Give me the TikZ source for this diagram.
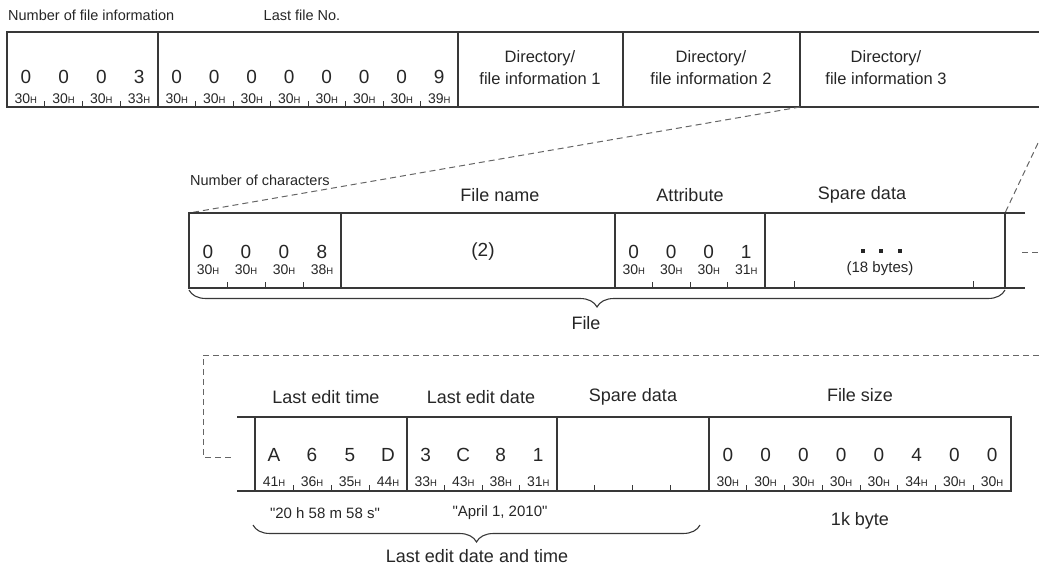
\documentclass[tikz,border=0pt]{standalone}
\usepackage{fontspec}
\setmainfont{Liberation Sans}
\usetikzlibrary{decorations.pathreplacing}

\newcommand{\hx}[1]{#1{\fontsize{9.5}{10}\selectfont H}}

\tikzset{
  frame/.style={draw=black!78, line width=1.3pt},
  tick/.style={draw=black!78, line width=0.9pt},
  link/.style={draw=black!60, line width=1pt, dash pattern=on 6pt off 4pt},
  toplbl/.style={font=\fontsize{14.5}{16}\selectfont},
  boxtxt/.style={font=\fontsize{16.5}{22}\selectfont, align=center},
  head/.style={font=\fontsize{18}{20}\selectfont},
  digit/.style={font=\fontsize{19}{21}\selectfont},
  hexv/.style={font=\fontsize{14}{15}\selectfont},
  note/.style={font=\fontsize{15}{17}\selectfont},
  sqdot/.style={fill=black!85, minimum size=4pt, inner sep=0pt},
  brc/.style={draw=black!78, line width=1.1pt,
              decorate, decoration={brace, mirror, amplitude=17pt}}
}

\begin{document}
\begin{tikzpicture}[x=1pt, y=-1pt, every node/.style={text=black!85, inner sep=0pt}]
  \useasboundingbox (0,0) rectangle (1039,568);

  % Header row
  \node[toplbl, anchor=west] (nfi) at (8,15) {Number of file information};
  \node[toplbl] (lfn) at (302,15) {Last file No.};
  \draw[frame] (1039,32) -- (7,32) -- (7,107) -- (1039,107);
  \draw[frame] (158,32) -- (158,107);
  \draw[frame] (458,32) -- (458,107);
  \draw[frame] (623,32) -- (623,107);
  \draw[frame] (800,32) -- (800,107);
  \foreach \d/\h [count=\i] in {0/30,0/30,0/30,3/33}{
    \node[digit] (a\i) at ({7+37.75*(\i-0.5)},77) {\d};
    \node[hexv] (ah\i) at ({7+37.75*(\i-0.5)},99) {\hx{\h}};
  }
  \foreach \d/\h [count=\i] in {0/30,0/30,0/30,0/30,0/30,0/30,0/30,9/39}{
    \node[digit] (b\i) at ({158+37.5*(\i-0.5)},77) {\d};
    \node[hexv] (bh\i) at ({158+37.5*(\i-0.5)},99) {\hx{\h}};
  }
  \foreach \i in {1,2,3} \draw[tick] ({7+37.75*\i},107) -- ++(0,-6);
  \foreach \i in {1,...,7} \draw[tick] ({158+37.5*\i},107) -- ++(0,-6);
  \node[boxtxt] (dir1) at (540,68) {Directory/\\file information 1};
  \node[boxtxt] (dir2) at (711,68) {Directory/\\file information 2};
  \node[boxtxt] (dir3) at (886,68) {Directory/\\file information 3};

  % File entry
  \coordinate (d3l) at (800,107);
  \coordinate (d3r) at (1055,107);
  \coordinate (fl) at (189,213);
  \coordinate (fr) at (1005,213);
  \draw[link] (d3l) -- (fl);
  \draw[link] (d3r) -- (fr);
  \node[toplbl, anchor=west] (noc) at (190,180) {Number of characters};
  \node[head] (fname) at (500,195) {File name};
  \node[head] (attr) at (690,195) {Attribute};
  \node[head] (spare1) at (862,195) {Spare data};
  \draw[frame] (1025,213) -- (189,213) -- (189,288) -- (1025,288);
  \draw[frame] (341,213) -- (341,288);
  \draw[frame] (615,213) -- (615,288);
  \draw[frame] (765,213) -- (765,288);
  \draw[frame] (1005,213) -- (1005,288);
  \foreach \d/\h [count=\i] in {0/30,0/30,0/30,8/38}{
    \node[digit] (c\i) at ({189+38*(\i-0.5)},252) {\d};
    \node[hexv] (ch\i) at ({189+38*(\i-0.5)},270) {\hx{\h}};
  }
  \foreach \d/\h [count=\i] in {0/30,0/30,0/30,1/31}{
    \node[digit] (t\i) at ({615+37.5*(\i-0.5)},252) {\d};
    \node[hexv] (th\i) at ({615+37.5*(\i-0.5)},270) {\hx{\h}};
  }
  \foreach \i in {1,2,3} \draw[tick] ({189+38*\i},288) -- ++(0,-6);
  \foreach \i in {1,2,3} \draw[tick] ({615+37.5*\i},288) -- ++(0,-6);
  \draw[tick] (794,288) -- ++(0,-7);
  \draw[tick] (973,288) -- ++(0,-7);
  \node[digit] (fn2) at (483,252) {(2)};
  \node[sqdot] (sd1) at (863,251) {};
  \node[sqdot] (sd2) at (881,251) {};
  \node[sqdot] (sd3) at (900,251) {};
  \node[note] (bytes) at (880,269) {(18 bytes)};
  \coordinate (more1) at (1022,252);
  \coordinate (more2) at (1039,252);
  \draw[link] (more1) -- (more2);
  \draw[brc] (189,290) -- (1005,290);
  \node[head] (file) at (586,323) {File};

  % Continuation of the entry
  \coordinate (c1) at (1039,355);
  \coordinate (c2) at (203,355);
  \coordinate (c3) at (203,457);
  \coordinate (c4) at (232,457);
  \draw[link] (c1) -- (c2) -- (c3) -- (c4);
  \node[head] (ltime) at (326,397) {Last edit time};
  \node[head] (ldate) at (481,397) {Last edit date};
  \node[head] (spare2) at (633,397) {Spare data};
  \node[head] (fsize) at (860,395) {File size};
  \draw[frame] (237,417) -- (1011,417) -- (1011,491) -- (237,491);
  \draw[frame] (255,417) -- (255,491);
  \draw[frame] (407,417) -- (407,491);
  \draw[frame] (557,417) -- (557,491);
  \draw[frame] (709,417) -- (709,491);
  \foreach \d/\h [count=\i] in {A/41,6/36,5/35,D/44}{
    \node[digit] (e\i) at ({255+38*(\i-0.5)},455) {\d};
    \node[hexv] (eh\i) at ({255+38*(\i-0.5)},482) {\hx{\h}};
  }
  \foreach \d/\h [count=\i] in {3/33,C/43,8/38,1/31}{
    \node[digit] (g\i) at ({407+37.5*(\i-0.5)},455) {\d};
    \node[hexv] (gh\i) at ({407+37.5*(\i-0.5)},482) {\hx{\h}};
  }
  \foreach \d/\h [count=\i] in {0/30,0/30,0/30,0/30,0/30,4/34,0/30,0/30}{
    \node[digit] (s\i) at ({709+37.75*(\i-0.5)},455) {\d};
    \node[hexv] (sh\i) at ({709+37.75*(\i-0.5)},482) {\hx{\h}};
  }
  \foreach \i in {1,2,3} \draw[tick] ({255+38*\i},491) -- ++(0,-6);
  \foreach \i in {1,2,3} \draw[tick] ({407+37.5*\i},491) -- ++(0,-6);
  \foreach \i in {1,2,3} \draw[tick] ({557+37.75*\i},491) -- ++(0,-6);
  \foreach \i in {1,...,7} \draw[tick] ({709+37.75*\i},491) -- ++(0,-6);
  \node[note] (tval) at (325,513) {\textquotedbl 20 h 58 m 58 s\textquotedbl};
  \node[note] (dval) at (500,513) {\textquotedbl April 1, 2010\textquotedbl};
  \node[head] (kb) at (860,521) {1k byte};
  \draw[brc] (253,525) -- (700,525);
  \node[head] (ldt) at (477,556) {Last edit date and time};
\end{tikzpicture}
\end{document}
